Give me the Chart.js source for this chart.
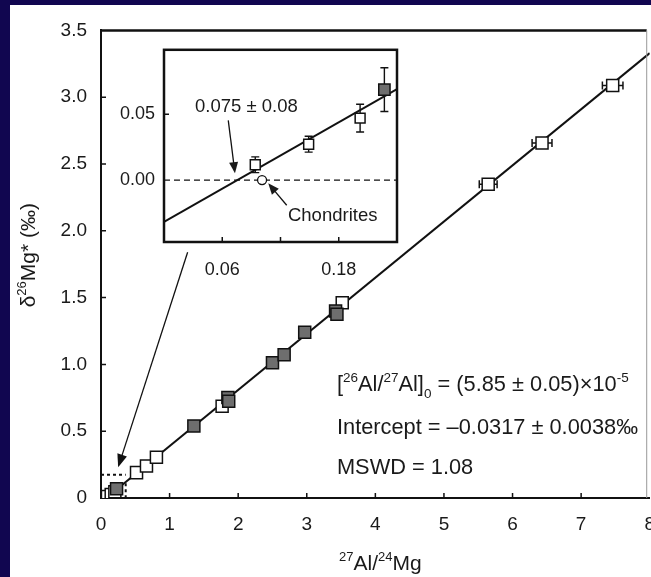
<!DOCTYPE html>
<html>
<head>
<meta charset="utf-8">
<script src="https://cdn.jsdelivr.net/npm/chart.js@4.4.1/dist/chart.umd.min.js"></script>
<style>
  html, body { margin: 0; padding: 0; background: #110650; overflow: hidden; width: 651px; height: 577px; }
  #mainBox { position: absolute; left: 10px; top: 5px; width: 660px; height: 572px; background: #fff; }
  #insetBox { position: absolute; left: 110px; top: 30px; width: 300px; height: 250px; }
</style>
</head>
<body>
<div id="mainBox"><canvas id="mainChart"></canvas></div>
<div id="insetBox"><canvas id="insetChart"></canvas></div>
<script>
const FONT = '"Liberation Sans", Arial, Helvetica, sans-serif';

// main panel
const openX = [0.094, 0.149, 0.202, 0.518, 0.663, 0.808, 1.766, 3.517, 5.645, 6.43, 7.46];
const openY = [0.012, 0.027, 0.047, 0.19, 0.24, 0.305, 0.687, 1.462, 2.349, 2.657, 3.087];
const openXErr = [0, 0, 0, 0, 0, 0, 0, 0, 0.13, 0.145, 0.15];
const filledX = [0.227, 1.354, 1.85, 1.862, 2.5, 2.67, 2.97, 3.42, 3.44];
const filledY = [0.069, 0.539, 0.753, 0.724, 1.012, 1.073, 1.24, 1.4, 1.376];
const fitX = [0.075, 8];
const fitY = [0, 3.33];
const mainXTicks = [0, 1, 2, 3, 4, 5, 6, 7, 8];
const mainYTicks = [0, 0.5, 1, 1.5, 2, 2.5, 3, 3.5];

// inset panel
const insetOpenX = [0.094, 0.149, 0.202];
const insetOpenY = [0.0116, 0.0272, 0.047];
const insetOpenErr = [0.006, 0.006, 0.0105];
const insetFilledX = [0.227];
const insetFilledY = [0.0686];
const insetFilledErr = [0.0166];
const chondriteX = [0.101];
const chondriteY = [0];
const insetFitX = [0, 0.24];
const insetFitY = [-0.0317, 0.069];
const insetXTicks = [0.06, 0.12, 0.18];
const insetXLabels = ['0.06', '', '0.18'];
const insetYTicks = [0, 0.05];

const pts = (xs, ys) => xs.map((x, i) => ({ x: x, y: ys[i] }));

function drawRich(ctx, x, y, parts, size) {
  ctx.textAlign = 'left';
  ctx.textBaseline = 'alphabetic';
  parts.forEach(p => {
    const small = p.sup || p.sub;
    ctx.font = (small ? size * 0.62 : size) + 'px ' + FONT;
    const dy = p.sup ? -size * 0.42 : (p.sub ? size * 0.3 : 0);
    ctx.fillText(p.t, x, y + dy);
    x += ctx.measureText(p.t).width;
  });
}

function richWidth(ctx, parts, size) {
  let w = 0;
  parts.forEach(p => {
    ctx.font = ((p.sup || p.sub) ? size * 0.62 : size) + 'px ' + FONT;
    w += ctx.measureText(p.t).width;
  });
  return w;
}

function arrow(ctx, x1, y1, x2, y2, head, half) {
  const a = Math.atan2(y2 - y1, x2 - x1);
  ctx.beginPath();
  ctx.moveTo(x1, y1);
  ctx.lineTo(x2 - Math.cos(a) * head * 0.8, y2 - Math.sin(a) * head * 0.8);
  ctx.stroke();
  ctx.beginPath();
  ctx.moveTo(x2, y2);
  ctx.lineTo(x2 - Math.cos(a) * head - Math.sin(a) * half, y2 - Math.sin(a) * head + Math.cos(a) * half);
  ctx.lineTo(x2 - Math.cos(a) * head + Math.sin(a) * half, y2 - Math.sin(a) * head - Math.cos(a) * half);
  ctx.closePath();
  ctx.fill();
}

// inward tick marks
function inwardTicks(ctx, chart, xVals, yVals, len) {
  const xs = chart.scales.x, ys = chart.scales.y, ca = chart.chartArea;
  ctx.strokeStyle = '#111';
  ctx.lineWidth = 1.5;
  ctx.beginPath();
  xVals.forEach(v => { const px = xs.getPixelForValue(v); ctx.moveTo(px, ca.bottom); ctx.lineTo(px, ca.bottom - len); });
  yVals.forEach(v => { const py = ys.getPixelForValue(v); ctx.moveTo(ca.left, py); ctx.lineTo(ca.left + len, py); });
  ctx.stroke();
}

const mainDecor = {
  id: 'mainDecor',
  beforeDatasetsDraw(chart) {
    const ctx = chart.ctx, xs = chart.scales.x, ys = chart.scales.y;
    ctx.save();
    ctx.strokeStyle = '#111';
    ctx.lineWidth = 1.5;
    openX.forEach((x, i) => {
      if (!openXErr[i]) return;
      const y = ys.getPixelForValue(openY[i]);
      const a = xs.getPixelForValue(x - openXErr[i]), b = xs.getPixelForValue(x + openXErr[i]);
      ctx.beginPath();
      ctx.moveTo(a, y); ctx.lineTo(b, y);
      ctx.moveTo(a, y - 4); ctx.lineTo(a, y + 4);
      ctx.moveTo(b, y - 4); ctx.lineTo(b, y + 4);
      ctx.stroke();
    });
    ctx.restore();
  },
  afterDraw(chart) {
    const ctx = chart.ctx, xs = chart.scales.x, ys = chart.scales.y, ca = chart.chartArea;
    ctx.save();
    // frame
    ctx.strokeStyle = '#111';
    ctx.lineWidth = 2.5;
    ctx.beginPath(); ctx.moveTo(ca.left, ca.top); ctx.lineTo(ca.right - 3, ca.top); ctx.stroke();
    ctx.strokeStyle = '#999';
    ctx.lineWidth = 1;
    ctx.beginPath(); ctx.moveTo(ca.right - 3, ca.top); ctx.lineTo(ca.right - 3, ca.bottom); ctx.stroke();
    inwardTicks(ctx, chart, [1, 2, 3, 4, 5, 6, 7], [0.5, 1, 1.5, 2, 2.5, 3], 5);

    // dotted zoom box near the origin
    ctx.strokeStyle = '#111';
    ctx.lineWidth = 2;
    ctx.setLineDash([3, 3]);
    ctx.beginPath();
    ctx.moveTo(xs.getPixelForValue(0), ys.getPixelForValue(0.174));
    ctx.lineTo(xs.getPixelForValue(0.36), ys.getPixelForValue(0.174));
    ctx.moveTo(xs.getPixelForValue(0.36), ys.getPixelForValue(0.11));
    ctx.lineTo(xs.getPixelForValue(0.36), ys.getPixelForValue(0));
    ctx.stroke();
    ctx.setLineDash([]);

    // arrow from the inset
    ctx.fillStyle = '#111';
    ctx.lineWidth = 1.3;
    arrow(ctx, xs.getPixelForValue(1.263), ys.getPixelForValue(1.839),
      xs.getPixelForValue(0.25), ys.getPixelForValue(0.23), 13, 5);

    // fit results
    ctx.fillStyle = '#1a1a1a';
    const tx = xs.getPixelForValue(3.44);
    drawRich(ctx, tx, ys.getPixelForValue(0.798), [
      { t: '[' }, { t: '26', sup: 1 }, { t: 'Al/' }, { t: '27', sup: 1 }, { t: 'Al]' }, { t: '0', sub: 1 },
      { t: ' = (5.85 \u00b1 0.05)\u00d710' }, { t: '-5', sup: 1 }
    ], 21.8);
    drawRich(ctx, tx, ys.getPixelForValue(0.48), [{ t: 'Intercept = \u20130.0317 \u00b1 0.0038\u2030' }], 21.8);
    drawRich(ctx, tx, ys.getPixelForValue(0.177), [{ t: 'MSWD = 1.08' }], 21.8);

    // axis titles
    const xt = [{ t: '27', sup: 1 }, { t: 'Al/' }, { t: '24', sup: 1 }, { t: 'Mg' }];
    drawRich(ctx, (ca.left + ca.right) / 2 - richWidth(ctx, xt, 21) / 2 + 5, 565, xt, 21);
    const yt = [{ t: '\u03b4' }, { t: '26', sup: 1 }, { t: 'Mg* (\u2030)' }];
    ctx.translate(25, (ca.top + ca.bottom) / 2 - 9);
    ctx.rotate(-Math.PI / 2);
    drawRich(ctx, -richWidth(ctx, yt, 21) / 2, 0, yt, 21);
    ctx.restore();
  }
};

const square = (bg, r) => ({ pointStyle: 'rect', pointRadius: r, pointHoverRadius: r, backgroundColor: bg, borderColor: '#111', borderWidth: 1.5 });

new Chart(document.getElementById('mainChart'), {
  type: 'scatter',
  data: {
    datasets: [
      Object.assign({ data: pts(filledX, filledY), order: 1 }, square('#6e6e6e', 8.5)),
      Object.assign({ data: pts(openX, openY), order: 2 }, square('#fff', 8.5)),
      { data: pts(fitX, fitY), showLine: true, borderColor: '#111', borderWidth: 2, pointRadius: 0, order: 3 }
    ]
  },
  options: {
    responsive: true,
    maintainAspectRatio: false,
    animation: false,
    layout: { padding: { top: 19, right: 18, left: 0, bottom: 0 } },
    plugins: { legend: { display: false }, tooltip: { enabled: false } },
    scales: {
      x: {
        type: 'linear', min: 0, max: 8,
        afterBuildTicks: s => { s.ticks = mainXTicks.map(v => ({ value: v })); },
        afterFit: s => { s.height = 79; },
        grid: { display: false, drawTicks: false },
        border: { display: true, color: '#111', width: 2 },
        ticks: { padding: 15, color: '#1a1a1a', font: { family: FONT, size: 19 }, callback: v => String(v) }
      },
      y: {
        type: 'linear', min: 0, max: 3.5,
        afterBuildTicks: s => { s.ticks = mainYTicks.map(v => ({ value: v })); },
        afterFit: s => { s.width = 91; },
        grid: { display: false, drawTicks: false },
        border: { display: true, color: '#111', width: 2 },
        ticks: { padding: 14, color: '#1a1a1a', font: { family: FONT, size: 19 }, callback: v => v === 0 ? '0' : v.toFixed(1) }
      }
    }
  },
  plugins: [mainDecor]
});

const insetDecor = {
  id: 'insetDecor',
  beforeDraw(chart) {
    const ctx = chart.ctx, ca = chart.chartArea;
    ctx.save();
    ctx.fillStyle = '#fff';
    ctx.fillRect(ca.left, ca.top, ca.right - ca.left, ca.bottom - ca.top);
    ctx.restore();
  },
  beforeDatasetsDraw(chart) {
    const ctx = chart.ctx, xs = chart.scales.x, ys = chart.scales.y;
    ctx.save();
    ctx.strokeStyle = '#111';
    ctx.lineWidth = 1.4;
    const bars = (X, Y, E) => X.forEach((x, i) => {
      const px = xs.getPixelForValue(x);
      const a = ys.getPixelForValue(Y[i] - E[i]), b = ys.getPixelForValue(Y[i] + E[i]);
      ctx.beginPath();
      ctx.moveTo(px, a); ctx.lineTo(px, b);
      ctx.moveTo(px - 4, a); ctx.lineTo(px + 4, a);
      ctx.moveTo(px - 4, b); ctx.lineTo(px + 4, b);
      ctx.stroke();
    });
    bars(insetOpenX, insetOpenY, insetOpenErr);
    bars(insetFilledX, insetFilledY, insetFilledErr);
    ctx.restore();
  },
  afterDraw(chart) {
    const ctx = chart.ctx, xs = chart.scales.x, ys = chart.scales.y, ca = chart.chartArea;
    ctx.save();
    ctx.strokeStyle = '#111';
    ctx.lineWidth = 2.5;
    ctx.strokeRect(ca.left, ca.top, ca.right - ca.left, ca.bottom - ca.top);
    inwardTicks(ctx, chart, insetXTicks, [0.05], 5);

    ctx.fillStyle = '#1a1a1a';
    ctx.lineWidth = 1.3;
    drawRich(ctx, xs.getPixelForValue(0.032), ys.getPixelForValue(0.0514), [{ t: '0.075 \u00b1 0.08' }], 18.5);
    drawRich(ctx, xs.getPixelForValue(0.1277), ys.getPixelForValue(-0.0313), [{ t: 'Chondrites' }], 18.5);
    arrow(ctx, xs.getPixelForValue(0.0662), ys.getPixelForValue(0.0453),
      xs.getPixelForValue(0.0731), ys.getPixelForValue(0.0052), 11, 4.5);
    arrow(ctx, xs.getPixelForValue(0.1264), ys.getPixelForValue(-0.0191),
      xs.getPixelForValue(0.1074), ys.getPixelForValue(-0.0025), 11, 4.5);
    ctx.restore();
  }
};

new Chart(document.getElementById('insetChart'), {
  type: 'scatter',
  data: {
    datasets: [
      Object.assign({ data: pts(insetFilledX, insetFilledY), order: 1 }, square('#6e6e6e', 8)),
      Object.assign({ data: pts(insetOpenX, insetOpenY), order: 2 }, square('#fff', 7)),
      { data: pts(chondriteX, chondriteY), order: 3, pointStyle: 'circle', pointRadius: 4.5, backgroundColor: '#fff', borderColor: '#111', borderWidth: 1.3 },
      { data: pts(insetFitX, insetFitY), showLine: true, borderColor: '#111', borderWidth: 2, pointRadius: 0, order: 4 },
      { data: pts(insetFitX, [0, 0]), showLine: true, borderColor: '#111', borderWidth: 1.3, borderDash: [6, 4], pointRadius: 0, order: 5 }
    ]
  },
  options: {
    responsive: true,
    maintainAspectRatio: false,
    animation: false,
    layout: { padding: { top: 6, right: 13, left: 0, bottom: 0 } },
    plugins: { legend: { display: false }, tooltip: { enabled: false } },
    scales: {
      x: {
        type: 'linear', min: 0, max: 0.24,
        afterBuildTicks: s => { s.ticks = insetXTicks.map(v => ({ value: v })); },
        afterFit: s => { s.height = 38; },
        grid: { display: false, drawTicks: false },
        border: { display: false },
        ticks: { padding: 17, color: '#1a1a1a', font: { family: FONT, size: 18 }, callback: (v, i) => insetXLabels[i] }
      },
      y: {
        type: 'linear', min: -0.047, max: 0.0988,
        afterBuildTicks: s => { s.ticks = insetYTicks.map(v => ({ value: v })); },
        afterFit: s => { s.width = 54; },
        grid: { display: false, drawTicks: false },
        border: { display: false },
        ticks: { padding: 9, color: '#1a1a1a', font: { family: FONT, size: 18 }, callback: v => v.toFixed(2) }
      }
    }
  },
  plugins: [insetDecor]
});
</script>
</body>
</html>
